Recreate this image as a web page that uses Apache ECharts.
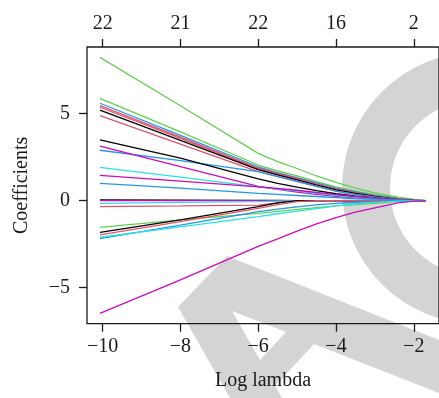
<!DOCTYPE html>
<html>
<head>
<meta charset="utf-8">
<script src="https://cdn.jsdelivr.net/npm/echarts@6/dist/echarts.min.js"></script>
<style>
  html, body { margin: 0; padding: 0; background: #fff; }
  #chart { width: 439px; height: 398px; }
</style>
</head>
<body>
<div id="chart"></div>
<script>
// Lasso coefficient paths against log(lambda)
const logLambda = [-10.07, -8, -6, -5.5, -5, -4.5, -4, -3.5, -3, -2.4, -2, -1.69];

const coefA = [8.24, 5.46, 2.72, 2.25, 1.85, 1.42, 1.05, 0.72, 0.45, 0.20, 0.07, 0];
const coefB = [5.88, 3.95, 2.05, 1.72, 1.43, 1.10, 0.80, 0.55, 0.35, 0.15, 0.05, 0];
const coefC = [5.60, 3.75, 1.95, 1.62, 1.33, 1.02, 0.72, 0.50, 0.30, 0.12, 0.04, 0];
const coefD = [5.46, 3.65, 1.88, 1.57, 1.28, 0.97, 0.68, 0.46, 0.28, 0.10, 0.03, 0];
const coefE = [5.37, 3.58, 1.83, 1.52, 1.24, 0.94, 0.65, 0.44, 0.26, 0.09, 0.03, 0];
const coefF = [5.21, 3.47, 1.78, 1.48, 1.20, 0.90, 0.62, 0.42, 0.25, 0.08, 0.02, 0];
const coefG = [4.89, 3.25, 1.67, 1.38, 1.10, 0.82, 0.55, 0.36, 0.20, 0.06, 0.01, 0];
const coefH = [2.90, 2.30, 1.67, 1.40, 1.13, 0.84, 0.55, 0.36, 0.20, 0.06, 0.01, 0];
const coefI = [3.49, 2.45, 1.25, 1.00, 0.78, 0.58, 0.40, 0.26, 0.15, 0.05, 0.01, 0];
const coefJ = [3.14, 1.96, 0.82, 0.65, 0.50, 0.36, 0.25, 0.16, 0.10, 0.03, 0, 0];
const coefK = [1.92, 1.36, 0.80, 0.67, 0.55, 0.42, 0.30, 0.20, 0.12, 0.04, 0, 0];
const coefL = [1.46, 1.13, 0.80, 0.70, 0.60, 0.47, 0.35, 0.24, 0.15, 0.05, 0.01, 0];
const coefM = [1.00, 0.72, 0.42, 0.36, 0.30, 0.24, 0.18, 0.12, 0.08, 0.03, 0, 0];
const coefN = [0.04, 0.03, 0.02, 0.01, 0, 0, 0, 0, 0, 0, 0, 0];
const coefO = [0, 0, 0, 0, 0, 0, 0, 0, 0, 0, 0, 0];
const coefP = [-0.15, -0.10, -0.05, -0.02, 0, 0, 0, 0, 0, 0, 0, 0];
const coefQ = [-0.34, -0.30, -0.25, -0.13, -0.02, 0, 0, 0, 0, 0, 0, 0];
const coefR = [-1.53, -1.10, -0.73, -0.61, -0.50, -0.40, -0.30, -0.22, -0.15, -0.05, -0.01, 0];
const coefS = [-1.82, -1.10, -0.34, -0.12, 0, 0, 0, 0, 0, 0, 0, 0];
const coefT = [-1.97, -1.20, -0.44, -0.22, -0.05, 0, 0, 0, 0, 0, 0, 0];
const coefU = [-2.18, -1.40, -0.63, -0.49, -0.35, -0.24, -0.15, -0.09, -0.05, 0, 0, 0];
const coefV = [-2.10, -1.50, -0.92, -0.75, -0.60, -0.45, -0.30, -0.19, -0.10, -0.03, 0, 0];
const coefW = [-6.47, -4.55, -2.62, -2.20, -1.75, -1.33, -0.97, -0.66, -0.41, -0.12, -0.03, 0];

// Palette (R 4.x defaults)
const BLACK = '#000000', RED = '#DF536B', GREEN = '#61D04F',
      BLUE = '#2297E6', CYAN = '#28E2E5', MAGENTA = '#CD0BBC';

const paths = [
  [coefA, GREEN], [coefB, GREEN], [coefC, BLUE], [coefD, RED], [coefE, RED],
  [coefF, BLACK], [coefG, RED], [coefH, BLUE], [coefI, BLACK], [coefJ, MAGENTA],
  [coefK, CYAN], [coefL, MAGENTA], [coefM, BLUE], [coefN, BLACK], [coefO, MAGENTA],
  [coefP, CYAN], [coefQ, RED], [coefR, GREEN], [coefS, BLACK], [coefT, RED],
  [coefU, BLUE], [coefV, CYAN], [coefW, MAGENTA]
];

// Tick positions and the degrees-of-freedom labels shown along the top
const xTicks = [-10, -8, -6, -4, -2];
const dfLabels = ['22', '21', '22', '16', '2'];
const yTicks = [-5, 0, 5];

const FONT = '"Liberation Serif", "DejaVu Serif", serif';
const INK = '#1a1a1a';
const SHADE = '#d4d4d4';
const minus = v => String(v).replace('-', '\u2212');

const chart = echarts.init(document.getElementById('chart'), null, { renderer: 'canvas' });

const baseX = {
  type: 'value', min: -10.403, max: -1.351,
  axisLine: { show: false, onZero: false }, splitLine: { show: false },
  axisTick: { show: true, inside: false, length: 8, customValues: xTicks,
              lineStyle: { color: INK, width: 1.3 } }
};

chart.setOption({
  animation: false,
  backgroundColor: '#ffffff',
  // light grey background emblem: a ring on the right and a tilted letter A below
  graphic: [
    { type: 'ring', z: -10, silent: true,
      shape: { cx: 478, cy: 188, r: 136, r0: 88 },
      style: { fill: SHADE } },
    { type: 'polygon', z: -10, silent: true,
      shape: { points: [[178, 307], [227, 256], [439, 340], [439, 393], [314, 344],
                        [275, 386], [282, 398], [230, 398]] },
      style: { fill: SHADE } },
    { type: 'polygon', z: -9, silent: true,
      shape: { points: [[232, 311], [260, 360], [286, 332]] },
      style: { fill: '#ffffff' } }
  ],
  grid: { left: 87, top: 47, width: 353, height: 276.7, show: true,
          borderColor: INK, borderWidth: 1.3, backgroundColor: 'transparent' },
  xAxis: [
    Object.assign({}, baseX, {
      position: 'bottom',
      name: 'Log lambda', nameLocation: 'middle', nameGap: 47,
      nameTextStyle: { fontFamily: FONT, fontSize: 20, color: INK },
      axisLabel: { customValues: xTicks, margin: 13, fontFamily: FONT, fontSize: 20,
                   color: INK, formatter: v => minus(v) }
    }),
    Object.assign({}, baseX, {
      position: 'top',
      axisLabel: { customValues: xTicks, margin: 13, fontFamily: FONT, fontSize: 20,
                   color: INK, formatter: v => dfLabels[xTicks.indexOf(Math.round(v))] || '' }
    })
  ],
  yAxis: {
    type: 'value', min: -7.069, max: 8.833,
    axisLine: { show: false, onZero: false }, splitLine: { show: false },
    axisTick: { show: true, inside: false, length: 8, customValues: yTicks,
                lineStyle: { color: INK, width: 1.3 } },
    axisLabel: { customValues: yTicks, margin: 17, fontFamily: FONT, fontSize: 20,
                 color: INK, formatter: v => minus(v) },
    name: 'Coefficients', nameLocation: 'middle', nameGap: 55,
    nameTextStyle: { fontFamily: FONT, fontSize: 20, color: INK }
  },
  series: paths.map(([vals, color]) => ({
    type: 'line', xAxisIndex: 0, silent: true, showSymbol: false,
    smooth: false,
    data: logLambda.map((x, i) => [x, vals[i]]),
    lineStyle: { color: color, width: 1.3 }
  }))
});
</script>
</body>
</html>
